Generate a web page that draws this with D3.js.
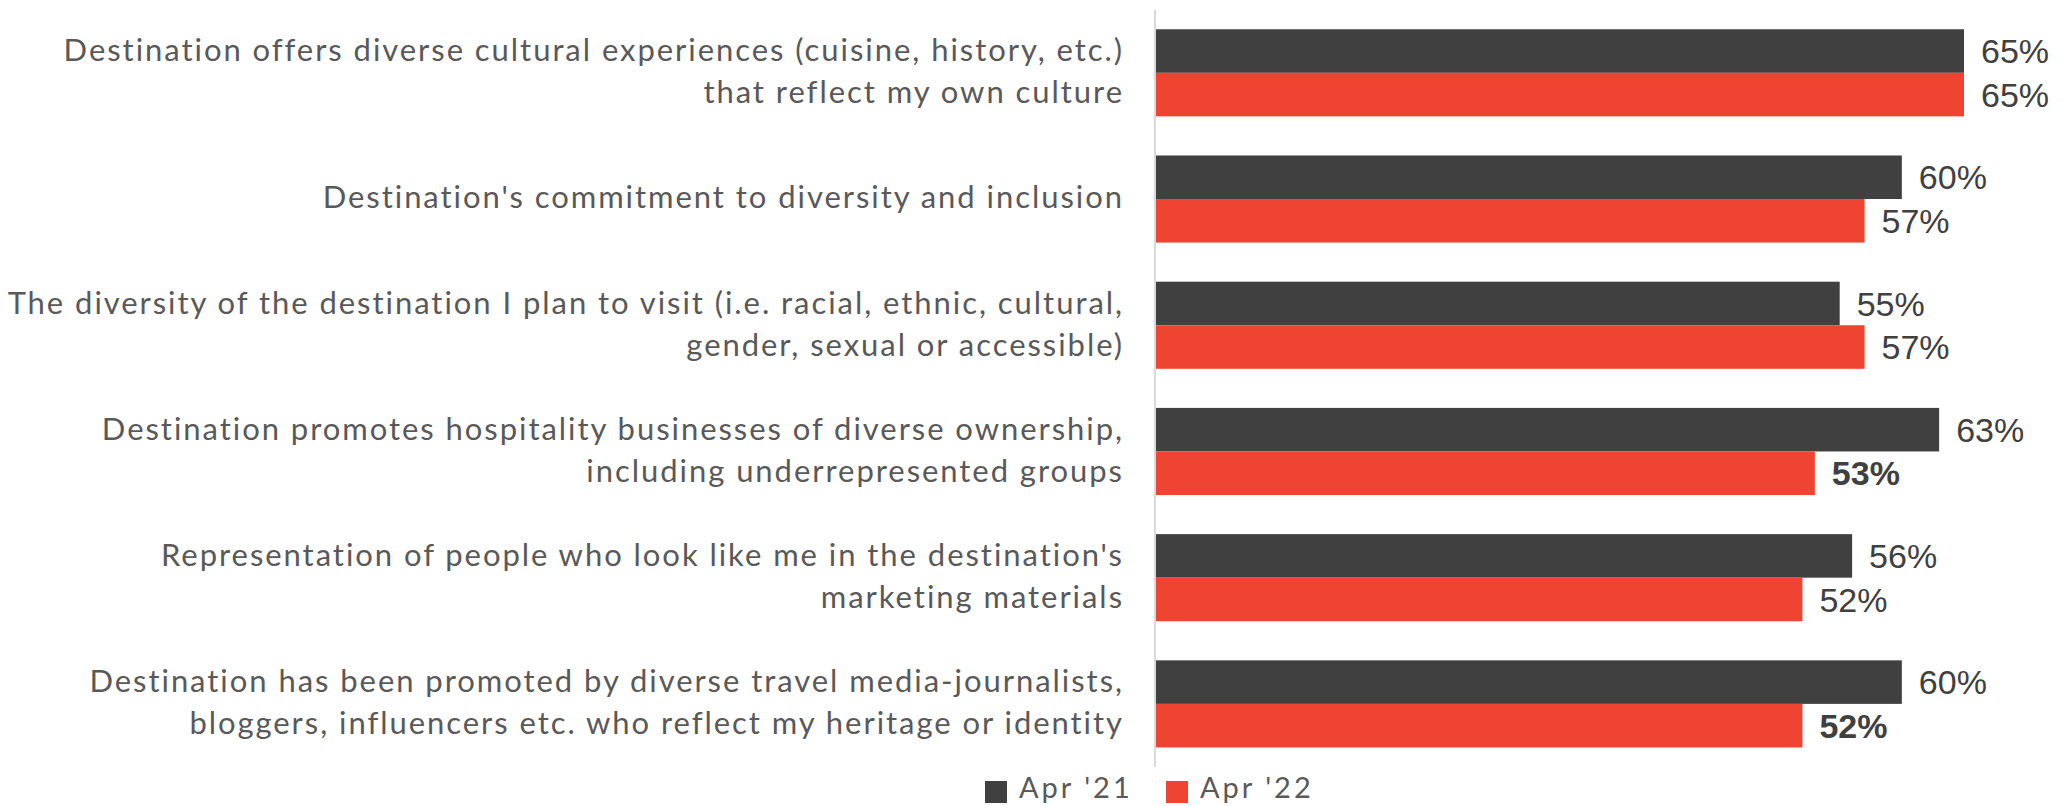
<!DOCTYPE html>
<html>
<head>
<meta charset="utf-8">
<script src="https://cdn.jsdelivr.net/npm/d3@7"></script>
<style>
  body { margin: 0; background: #fff; }
  svg { display: block; }
</style>
</head>
<body>
<div class="graphContainer"></div>
<script>
// categories (already split into the lines used on the chart)
const categories = [
  ["Destination offers diverse cultural experiences (cuisine, history, etc.)", "that reflect my own culture"],
  ["Destination's commitment to diversity and inclusion"],
  ["The diversity of the destination I plan to visit (i.e. racial, ethnic, cultural,", "gender, sexual or accessible)"],
  ["Destination promotes hospitality businesses of diverse ownership,", "including underrepresented groups"],
  ["Representation of people who look like me in the destination's", "marketing materials"],
  ["Destination has been promoted by diverse travel media-journalists,", "bloggers, influencers etc. who reflect my heritage or identity"]
];
const seriesNames = ["Apr '21", "Apr '22"];
const apr21 = [65, 60, 55, 63, 56, 60];
const apr22 = [65, 57, 57, 53, 52, 52];
// labels shown in bold (series index, category index)
const boldLabels = [[1, 3], [1, 5]];

const colors = ["#404040", "#ee4431"];
const w = 2070,
  h = 806;

const canvas = d3.select(".graphContainer")
  .append("svg")
  .attr("width", w)
  .attr("height", h);

const ids = categories.map(function (d, i) { return i; });

const y0 = d3.scaleBand()
  .domain(ids)
  .range([9.7, 767])
  .paddingInner(0.31)
  .paddingOuter(0.155);

const y1 = d3.scaleBand()
  .domain([0, 1])
  .range([0, y0.bandwidth()]);

const x = d3.scaleLinear()
  .domain([0, 65])
  .range([1156, 1964]);

const rows = [];
[apr21, apr22].forEach(function (vals, s) {
  vals.forEach(function (v, i) {
    const bold = boldLabels.some(function (b) { return b[0] === s && b[1] === i; });
    rows.push({ s: s, i: i, v: v, bold: bold });
  });
});

// bars
canvas.selectAll("rect.bar")
  .data(rows)
  .enter()
  .append("rect")
  .attr("class", "bar")
  .attr("x", x(0))
  .attr("y", function (d) { return y0(d.i) + y1(d.s); })
  .attr("width", function (d) { return x(d.v) - x(0); })
  .attr("height", y1.bandwidth())
  .attr("fill", function (d) { return colors[d.s]; });

// value labels
canvas.selectAll("text.val")
  .data(rows)
  .enter()
  .append("text")
  .attr("class", "val")
  .attr("x", function (d) { return x(d.v) + 17; })
  .attr("y", function (d) { return y0(d.i) + y1(d.s) + y1.bandwidth() / 2; })
  .attr("dy", "0.36em")
  .attr("font-family", "'Liberation Sans', Arial, sans-serif")
  .attr("font-size", 34)
  .attr("font-weight", function (d) { return d.bold ? "bold" : "normal"; })
  .attr("fill", "#404040")
  .text(function (d) { return d.v + "%"; });

// vertical axis line
canvas.append("line")
  .attr("x1", x(0) - 1)
  .attr("x2", x(0) - 1)
  .attr("y1", y0.range()[0])
  .attr("y2", y0.range()[1])
  .attr("stroke", "#d9d9d9")
  .attr("stroke-width", 2);

// category labels
const labels = canvas.selectAll("text.cat")
  .data(categories)
  .enter()
  .append("text")
  .attr("class", "cat")
  .attr("text-anchor", "end")
  .attr("font-family", "Lato, sans-serif")
  .attr("font-size", 31)
  .attr("letter-spacing", 1.95)
  .attr("fill", "#595959")
  .attr("transform", function (d, i) {
    return "translate(1124," + (y0(i) + y0.bandwidth() / 2) + ")";
  });

labels.selectAll("tspan")
  .data(function (d) { return d; })
  .enter()
  .append("tspan")
  .attr("x", 0)
  .attr("y", function (d, j, nodes) {
    return (j - (nodes.length - 1) / 2) * 42;
  })
  .attr("dy", "0.3em")
  .text(function (d) { return d; });

// legend
const legend = canvas.selectAll("g.legend")
  .data(seriesNames)
  .enter()
  .append("g")
  .attr("class", "legend")
  .attr("transform", function (d, i) {
    return "translate(" + (985 + i * 181) + ",781)";
  });

legend.append("rect")
  .attr("width", 22)
  .attr("height", 22)
  .attr("fill", function (d, i) { return colors[i]; });

legend.append("text")
  .attr("x", 34)
  .attr("y", 16.5)
  .attr("font-family", "Lato, sans-serif")
  .attr("font-size", 29)
  .attr("letter-spacing", 3)
  .attr("fill", "#595959")
  .text(function (d) { return d; });
</script>
</body>
</html>
